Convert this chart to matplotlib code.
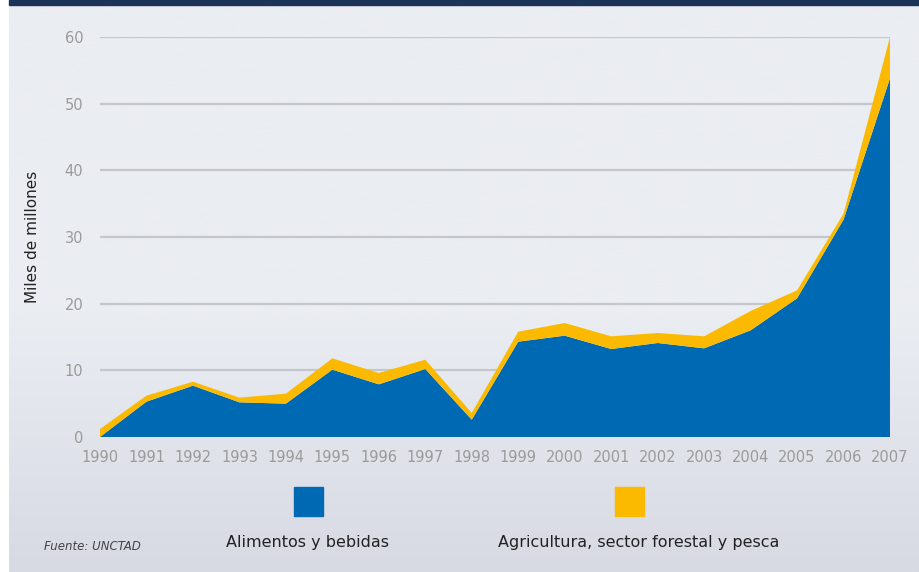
import matplotlib
matplotlib.use("Agg")
import matplotlib.pyplot as plt
import numpy as np
from matplotlib.patches import Rectangle

years = list(range(1990, 2008))
alimentos = [0.0, 5.3, 7.7, 5.2, 5.0, 10.1, 7.9, 10.2, 2.6, 14.3, 15.2, 13.2, 14.1, 13.3, 16.0, 20.8, 32.6, 53.8]
agricultura = [1.2, 0.9, 0.6, 0.7, 1.5, 1.7, 1.7, 1.4, 1.0, 1.5, 1.9, 1.9, 1.5, 1.8, 2.9, 1.2, 0.9, 6.2]
yticks = [0, 10, 20, 30, 40, 50, 60]
legend_labels = ["Alimentos y bebidas", "Agricultura, sector forestal y pesca"]
colors = ["#0069b4", "#fbba00"]

W, H = 919, 572
fig = plt.figure(figsize=(W / 100, H / 100), dpi=100)
fig.patch.set_facecolor("white")

# background gradient
bg = fig.add_axes([9 / W, 0, 1 - 9 / W, 1], zorder=-10)
grad = np.linspace(0, 1, 256).reshape(-1, 1)
top = np.array([0xea, 0xed, 0xf2]) / 255
bot = np.array([0xd7, 0xda, 0xe3]) / 255
g = np.clip((grad - 0.55) / 0.45, 0, 1)
img = top * (1 - g)[..., None] + bot * g[..., None]
bg.imshow(img[:, :, :], aspect="auto", extent=[0, 1, 0, 1], origin="upper")
bg.set_axis_off()
# navy top band
fig.patches.append(Rectangle((9 / W, 1 - 5 / H), 1, 5 / H, transform=fig.transFigure,
                             color="#1b3358", zorder=5))

x0, x1 = 100, 890
y0, y1 = 437, 37
ax = fig.add_axes([x0 / W, 1 - y0 / H, (x1 - x0) / W, (y0 - y1) / H])
ax.set_facecolor("none")
ax.stackplot(years, alimentos, agricultura, colors=colors, linewidth=0, zorder=3)
ax.set_xlim(1990, 2007)
ax.set_ylim(0, 60)
ax.set_yticks(yticks)
ax.set_xticks(years)
ax.grid(axis="y", color="#c4c6cb", linewidth=1.6, zorder=0)
ax.set_axisbelow(True)
for s in ax.spines.values():
    s.set_visible(False)
ax.tick_params(length=0, labelsize=10.5, colors="#9a9a9a", pad=6)
ax.tick_params(axis="x", pad=9)
ax.tick_params(axis="y", pad=12)
ax.set_ylabel("Miles de millones", fontsize=11, color="#222222", labelpad=18)

# legend
fig.patches.append(Rectangle((294 / W, 1 - 516 / H), 29 / W, 29 / H, transform=fig.transFigure,
                             color=colors[0], zorder=5))
fig.patches.append(Rectangle((615 / W, 1 - 516 / H), 29 / W, 29 / H, transform=fig.transFigure,
                             color=colors[1], zorder=5))
fig.text(307 / W, 1 - 543 / H, legend_labels[0], ha="center", va="center", fontsize=11.5, color="#222222")
fig.text(639 / W, 1 - 543 / H, legend_labels[1], ha="center", va="center", fontsize=11.5, color="#222222")
fig.text(44 / W, 1 - 547 / H, "Fuente: UNCTAD", ha="left", va="center", fontsize=8.5,
         style="italic", color="#444444")

fig.savefig("out.png", dpi=100)
